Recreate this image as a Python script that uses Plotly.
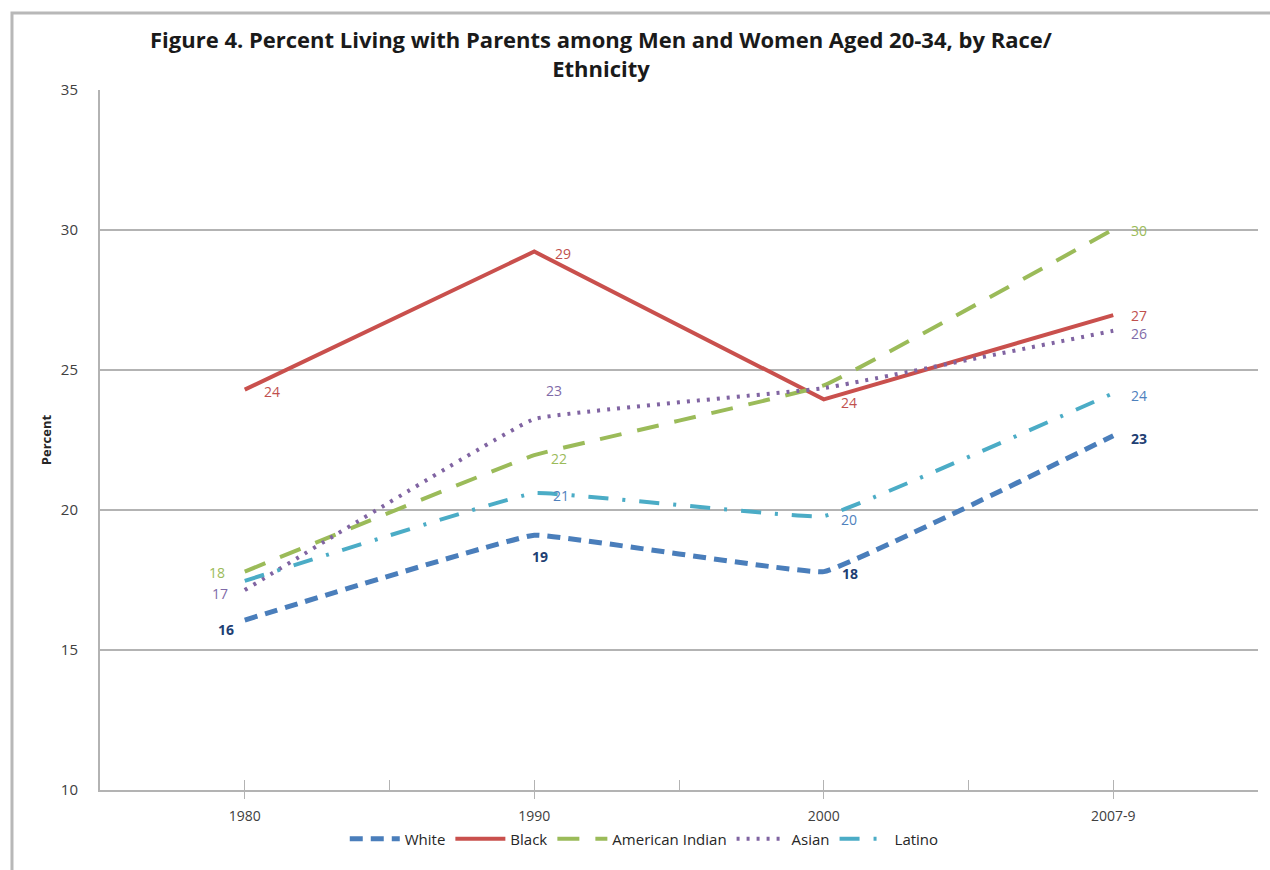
import plotly.graph_objects as go

# Survey periods and percent living with parents, ages 20-34
periods = ["1980", "1990", "2000", "2007-9"]
white = [16.07, 19.1, 17.8, 22.65]
black = [24.3, 29.23, 23.95, 26.96]
american_indian = [17.8, 21.96, 24.45, 30.02]
asian = [17.14, 23.25, 24.35, 26.4]
latino = [17.47, 20.6, 19.78, 24.17]

# Which points carry a value label
white_labeled = [True, True, True, True]
black_labeled = [True, True, True, True]
american_indian_labeled = [True, True, False, True]
asian_labeled = [True, True, False, True]
latino_labeled = [False, True, True, True]

FONT = "Open Sans, Arial, sans-serif"
x = list(range(len(periods)))

series = [
    dict(name="White", y=white, flags=white_labeled, color="#4a7ebb", label="#1f3f73",
         bold=True, dash="13px,8px", width=5, shape="spline",
         shift=[(-19, -9), (6, -21), (26, -2), (26, -3)]),
    dict(name="Black", y=black, flags=black_labeled, color="#c9504d", label="#c0504d",
         bold=False, dash="solid", width=4, shape="linear",
         shift=[(27, -2), (29, -2), (25, -3), (26, 0)]),
    dict(name="American Indian", y=american_indian, flags=american_indian_labeled,
         color="#9bbb59", label="#9bbb59", bold=False, dash="22px,16px", width=4,
         shape="spline", shift=[(-28, -1), (25, -3), (0, 0), (26, -1)]),
    dict(name="Asian", y=asian, flags=asian_labeled, color="#8064a2", label="#7f6aa8",
         bold=False, dash="3px,7px", width=4, shape="spline",
         shift=[(-25, -3), (20, 29), (0, 0), (26, -3)]),
    dict(name="Latino", y=latino, flags=latino_labeled, color="#4bacc6", label="#4f81bd",
         bold=False, dash="20px,14px,3px,14px", width=4, shape="spline",
         shift=[(0, 0), (27, -2), (25, -3), (26, -2)]),
]

fig = go.Figure()
annotations = []
for s in series:
    fig.add_trace(go.Scatter(
        x=x, y=s["y"], name=s["name"], mode="lines",
        line=dict(color=s["color"], width=s["width"], dash=s["dash"],
                  shape=s["shape"], smoothing=0.2),
        hoverinfo="skip",
    ))
    # value labels next to each point
    for xi, v, flag, (dx, dy) in zip(x, s["y"], s["flags"], s["shift"]):
        if not flag:
            continue
        txt = f"{v:.0f}"
        annotations.append(dict(
            x=xi, y=v, xref="x", yref="y", text=f"<b>{txt}</b>" if s["bold"] else txt,
            showarrow=False, xshift=dx, yshift=dy, xanchor="center", yanchor="middle",
            font=dict(family=FONT, size=14, color=s["label"]),
        ))

annotations.append(dict(
    text="<b>Figure 4. Percent Living with Parents among Men and Women Aged 20-34, by Race/<br>Ethnicity</b>",
    xref="paper", yref="paper", x=0.433, y=1.052, xanchor="center", yanchor="middle",
    showarrow=False, align="center",
    font=dict(family=FONT, size=22, color="#1a1a1a"),
))

fig.update_layout(
    width=1270, height=870,
    paper_bgcolor="white", plot_bgcolor="white",
    margin=dict(l=100, r=12, t=90, b=80),
    font=dict(family=FONT, color="#404040"),
    showlegend=True,
    legend=dict(orientation="h", x=0.47, xanchor="center", y=-0.07, yanchor="middle",
                font=dict(family=FONT, size=15, color="#262626"),
                itemwidth=50, tracegroupgap=0),
    xaxis=dict(range=[-0.5, 3.5], tickvals=x, ticktext=periods,
               showgrid=False, zeroline=False, showline=True,
               linecolor="#b3b3b3", linewidth=2,
               ticks="outside", ticklen=7, tickwidth=1, tickcolor="#b3b3b3",
               minor=dict(tickvals=[0, 0.5, 1, 1.5, 2, 2.5, 3], ticks="inside",
                          ticklen=10, tickwidth=1, tickcolor="#b3b3b3"),
               ticklabelstandoff=5,
               tickfont=dict(family=FONT, size=14, color="#404040")),
    xaxis2=dict(range=[-0.5, 3.5], overlaying="x", anchor="y", side="bottom",
                tickvals=[0.5, 1.5, 2.5], ticks="outside", ticklen=7, tickwidth=1,
                tickcolor="#b3b3b3", showticklabels=False, showgrid=False,
                zeroline=False, showline=False),
    yaxis=dict(range=[10, 35], dtick=5, showgrid=True, gridcolor="#b3b3b3", gridwidth=2,
               zeroline=False, showline=True, linecolor="#b3b3b3", linewidth=2,
               ticks="", ticklabelstandoff=17,
               tickfont=dict(family=FONT, size=15, color="#404040"),
               title=dict(text="<b>Percent</b>", standoff=6,
                          font=dict(family=FONT, size=13, color="#262626"))),
    annotations=annotations,
    shapes=[dict(type="rect", xref="paper", yref="paper",
                 x0=-0.076, x1=1.05, y0=-0.13, y1=1.11,
                 line=dict(color="#b8b8b8", width=3), layer="below")],
)

fig.write_html("out.html")
